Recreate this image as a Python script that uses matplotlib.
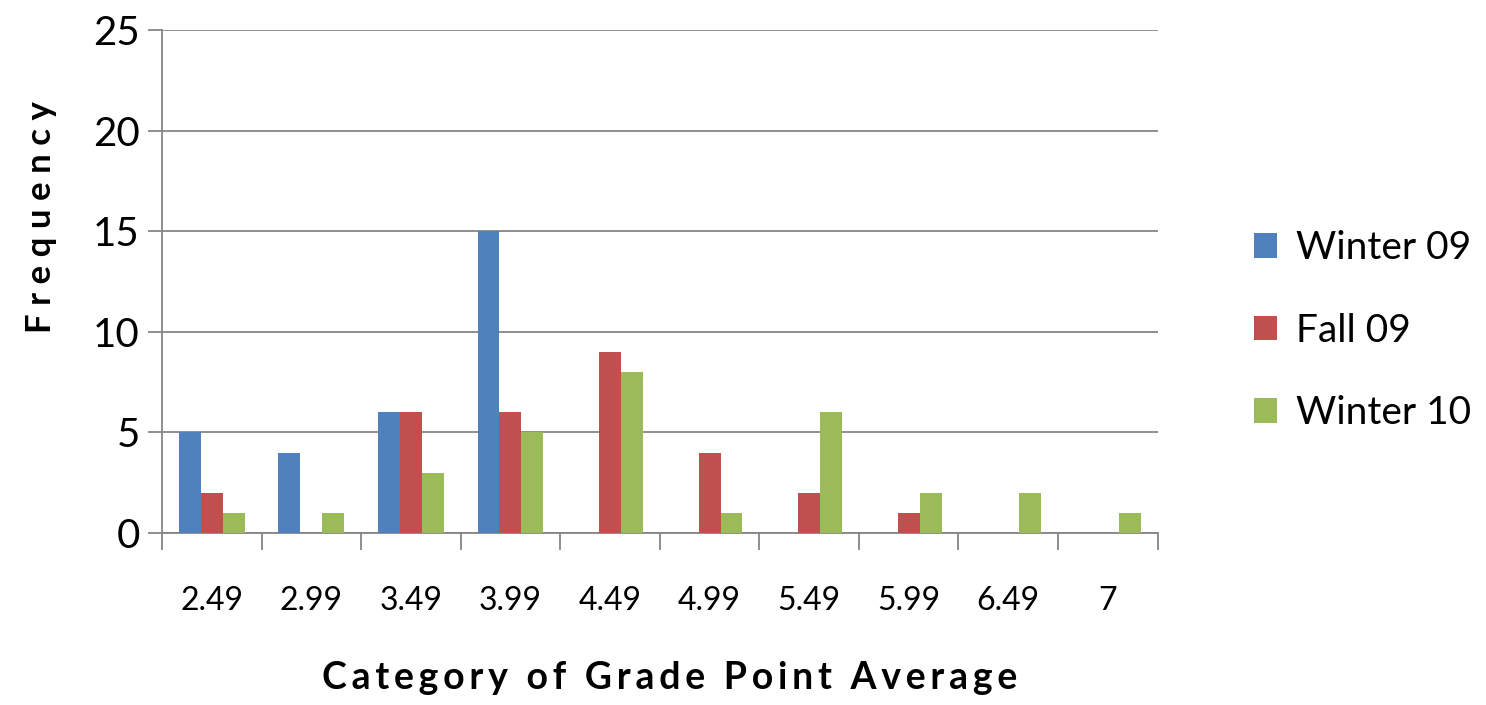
import numpy as np
import matplotlib
matplotlib.use("Agg")
from matplotlib import pyplot as plt
from matplotlib.ticker import FixedLocator

# Data
categories = ['2.49', '2.99', '3.49', '3.99', '4.49', '4.99', '5.49', '5.99', '6.49', '7']
winter09 = [5, 4, 6, 15, 0, 0, 0, 0, 0, 0]
fall09 = [2, 0, 6, 6, 9, 4, 2, 1, 0, 0]
winter10 = [1, 1, 3, 5, 8, 1, 6, 2, 2, 1]

series_names = ['Winter 09', 'Fall 09', 'Winter 10']
colors = ['#4F81BD', '#C0504D', '#9BBB59']

plt.rcParams['font.family'] = ['Lato', 'DejaVu Sans']


def spaced(s):
    # loose letter tracking like the original
    return '\u2009'.join(s)


fig = plt.figure(figsize=(14.86, 7.05), dpi=100)
ax = fig.add_axes([0.109, 0.244, 0.670, 0.713])

x = np.arange(len(categories))
w = 0.22
for i, (vals, name, c) in enumerate(zip([winter09, fall09, winter10], series_names, colors)):
    ax.bar(x + (i - 1) * w, vals, width=w, color=c, label=name, zorder=3)

ax.set_xlim(-0.5, len(categories) - 0.5)
ax.set_ylim(0, 25)
ax.set_yticks([0, 5, 10, 15, 20, 25])
ax.yaxis.grid(True, color='#868686', linewidth=1.3, zorder=0)

ax.set_xticks(x)
ax.set_xticklabels(categories, fontsize=23)
ax.xaxis.set_minor_locator(FixedLocator(np.arange(-0.5, len(categories), 1.0)))
ax.tick_params(axis='x', which='major', length=0, pad=38)
ax.tick_params(axis='x', which='minor', length=12, width=1.3, color='#868686')
ax.tick_params(axis='y', labelsize=29, length=10, width=1.3, color='#868686', pad=6)

for s in ['top', 'right']:
    ax.spines[s].set_visible(False)
for s in ['left', 'bottom']:
    ax.spines[s].set_color('#868686')
    ax.spines[s].set_linewidth(1.3)

ax.set_xlabel(spaced('Category of Grade Point Average'), fontsize=27, fontweight='bold')
ax.xaxis.set_label_coords(0.51, -0.255)
ax.set_ylabel('F r e q u e n c y', fontsize=25, fontweight='bold')
ax.yaxis.set_label_coords(-0.105, 0.628)

fig.legend(loc='center left', bbox_to_anchor=(0.82, 0.531), frameon=False,
           fontsize=28, handlelength=0.6, handleheight=0.6, handletextpad=0.5,
           labelspacing=1.2)

fig.savefig('out.png', dpi=100)
